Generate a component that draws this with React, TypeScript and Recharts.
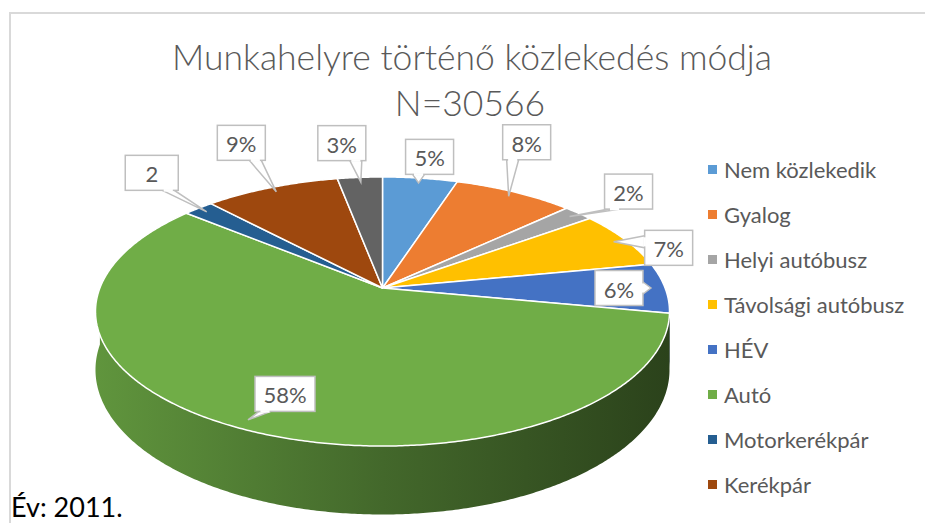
import React from 'react';
import { PieChart, Pie, Cell, Legend } from 'recharts';

// ---- data ----
const categories = [
  'Nem közlekedik',
  'Gyalog',
  'Helyi autóbusz',
  'Távolsági autóbusz',
  'HÉV',
  'Autó',
  'Motorkerékpár',
  'Kerékpár',
  'Egyéb',
];
const shares = [5, 8, 2, 7, 6, 58, 2, 9, 3];
const labelTexts = ['5%', '8%', '2%', '7%', '6%', '58%', '2', '9%', '3%'];
const titleLines = ['Munkahelyre történő közlekedés módja', 'N=30566'];
const footnote = 'Év: 2011.';
const VISIBLE_LEGEND_ITEMS = 8; // the last legend row falls outside the chart frame

// ---- styles / layout ----
const COLORS = ['#5B9BD5', '#ED7D31', '#A5A5A5', '#FFC000', '#4472C4', '#70AD47', '#255E91', '#9E480E', '#636363'];
const LABEL_OFFSETS: [number, number][] = [
  [11, -26],
  [18, -54],
  [59, -25],
  [55, 6],
  [-32, 0],
  [37, -26],
  [-55, -39],
  [-35, -49],
  [-19, -39],
];
const TILT = 0.4615;
const PERSP = 0.1747;
const DEPTH = 0.2;
const FONT = 'Lato, "Open Sans", sans-serif';
const TEXT_COLOR = '#595959';

const data = categories.map((name, i) => ({ name, value: shares[i], label: labelTexts[i] }));

function proj(cx: number, cy: number, R: number, angleDeg: number, r: number, z: number): [number, number] {
  const a = (angleDeg * Math.PI) / 180;
  const u = r * Math.cos(a);
  const v = r * Math.sin(a);
  const w = 1 + PERSP * v;
  return [cx + (R * u) / w, cy - (R * TILT * v) / w + (z * R * DEPTH) / w];
}

function shade(hex: string, f: number) {
  const n = parseInt(hex.slice(1), 16);
  const r = Math.round(((n >> 16) & 255) * f);
  const g = Math.round(((n >> 8) & 255) * f);
  const b = Math.round((n & 255) * f);
  return `rgb(${r},${g},${b})`;
}

function arcPoints(cx: number, cy: number, R: number, a1: number, a2: number, z: number) {
  const steps = Math.max(2, Math.ceil(Math.abs(a2 - a1) * 2));
  const pts: [number, number][] = [];
  for (let s = 0; s <= steps; s++) {
    const a = a1 + ((a2 - a1) * s) / steps;
    pts.push(proj(cx, cy, R, a, 1, z));
  }
  return pts;
}

function Slice3D(props: any) {
  const { cx, cy, outerRadius, startAngle, endAngle } = props;
  const name = props.name ?? props.payload?.name;
  const idx = Math.max(0, categories.indexOf(name));
  const color = COLORS[idx];
  const R = outerRadius;
  const hi = Math.max(startAngle, endAngle);
  const lo = Math.min(startAngle, endAngle);
  const top = arcPoints(cx, cy, R, startAngle, endAngle, 0);
  const topPath =
    `M${cx},${cy} ` + top.map((p) => `L${p[0].toFixed(2)},${p[1].toFixed(2)}`).join(' ') + ' Z';
  // side wall for the front part (angles between -180 and 0)
  const s1 = Math.max(lo, -180);
  const s2 = Math.min(hi, 0);
  let sidePath = '';
  if (s2 > s1) {
    const upper = arcPoints(cx, cy, R, s1, s2, 0);
    const lower = arcPoints(cx, cy, R, s2, s1, 1);
    sidePath =
      `M${upper[0][0].toFixed(2)},${upper[0][1].toFixed(2)} ` +
      upper.slice(1).map((p) => `L${p[0].toFixed(2)},${p[1].toFixed(2)}`).join(' ') +
      ' ' +
      lower.map((p) => `L${p[0].toFixed(2)},${p[1].toFixed(2)}`).join(' ') +
      ' Z';
  }
  const gid = `side-grad-${idx}`;
  return (
    <g>
      <defs>
        <linearGradient id={gid} x1="0" y1="0" x2="1" y2="0">
          <stop offset="0%" stopColor={shade(color, 0.86)} />
          <stop offset="50%" stopColor={shade(color, 0.6)} />
          <stop offset="100%" stopColor={shade(color, 0.38)} />
        </linearGradient>
      </defs>
      {sidePath && <path d={sidePath} fill={`url(#${gid})`} stroke="none" />}
      <path d={topPath} fill={color} stroke="#ffffff" strokeWidth={1.5} strokeLinejoin="round" />
    </g>
  );
}

function renderLabel(props: any) {
  const { cx, cy, outerRadius, midAngle } = props;
  const name = props.name ?? props.payload?.name;
  const idx = Math.max(0, categories.indexOf(name));
  const text = labelTexts[idx];
  const [tx, ty] = proj(cx, cy, outerRadius, midAngle, 0.95, 0);
  const [dx, dy] = LABEL_OFFSETS[idx];
  const bx = tx + dx;
  const by = ty + dy;
  const w = text.length >= 3 ? 60 : text.length === 1 ? 53 : 48;
  const h = 35;
  const left = bx - w / 2;
  const right = bx + w / 2;
  const topY = by - h / 2;
  const bottom = by + h / 2;
  let b1: [number, number];
  let b2: [number, number];
  const hw = 6;
  const clamp = (v: number, a: number, b: number) => Math.min(b, Math.max(a, v));
  if (ty > bottom) {
    const x = clamp(tx, left + hw + 4, right - hw - 4);
    b1 = [x - hw, bottom];
    b2 = [x + hw, bottom];
  } else if (ty < topY) {
    const x = clamp(tx, left + hw + 4, right - hw - 4);
    b1 = [x - hw, topY];
    b2 = [x + hw, topY];
  } else if (tx > right) {
    const y = clamp(ty, topY + hw + 4, bottom - hw - 4);
    b1 = [right, y - hw];
    b2 = [right, y + hw];
  } else {
    const y = clamp(ty, topY + hw + 4, bottom - hw - 4);
    b1 = [left, y - hw];
    b2 = [left, y + hw];
  }
  const tail = `${b1[0]},${b1[1]} ${tx},${ty} ${b2[0]},${b2[1]}`;
  const stroke = '#bfbfbf';
  return (
    <g key={`lbl-${idx}`}>
      <polygon points={tail} fill="#ffffff" stroke={stroke} strokeWidth={1.5} strokeLinejoin="miter" />
      <rect x={left} y={topY} width={w} height={h} fill="#ffffff" stroke={stroke} strokeWidth={1.5} />
      <line
        x1={b1[0] + (b2[0] - b1[0]) * 0.12}
        y1={b1[1] + (b2[1] - b1[1]) * 0.12}
        x2={b1[0] + (b2[0] - b1[0]) * 0.88}
        y2={b1[1] + (b2[1] - b1[1]) * 0.88}
        stroke="#ffffff"
        strokeWidth={2.5}
      />
      <text
        x={bx}
        y={by + 1}
        textAnchor="middle"
        dominantBaseline="central"
        fill={TEXT_COLOR}
        fontSize={22}
        fontFamily={FONT}
      >
        {text}
      </text>
    </g>
  );
}

function LegendContent(props: any) {
  const payload = [...(props.payload || [])]
    .sort((a: any, b: any) => categories.indexOf(a.value) - categories.indexOf(b.value))
    .slice(0, VISIBLE_LEGEND_ITEMS);
  return (
    <div style={{ fontFamily: FONT }}>
      {payload.map((entry: any, i: number) => (
        <div
          key={`leg-${i}`}
          style={{ height: 45, display: 'flex', alignItems: 'center', whiteSpace: 'nowrap' }}
        >
          <span
            style={{
              display: 'inline-block',
              width: 9,
              height: 9,
              background: COLORS[categories.indexOf(entry.value)] || entry.color,
              marginRight: 7,
            }}
          />
          <span style={{ fontSize: 22, color: TEXT_COLOR }}>{entry.value}</span>
        </div>
      ))}
    </div>
  );
}

export default function App() {
  return (
    <div
      style={{
        position: 'absolute',
        left: 0,
        top: 0,
        width: 925,
        height: 523,
        overflow: 'hidden',
        background: '#ffffff',
      }}
    >
      <div
        style={{
          position: 'absolute',
          left: 9,
          top: 12,
          width: 940,
          height: 540,
          border: '2px solid #d9d9d9',
          boxSizing: 'border-box',
        }}
      />
      <div
        style={{
          position: 'absolute',
          left: 0,
          width: 944,
          top: 34,
          height: 46,
          lineHeight: '46px',
          textAlign: 'center',
          fontFamily: FONT,
          fontWeight: 300,
          fontSize: 35.5,
          color: TEXT_COLOR,
        }}
      >
        {titleLines[0]}
      </div>
      <div
        style={{
          position: 'absolute',
          left: 0,
          width: 940,
          top: 80,
          height: 46,
          lineHeight: '46px',
          textAlign: 'center',
          fontFamily: FONT,
          fontWeight: 300,
          fontSize: 35.5,
          color: TEXT_COLOR,
        }}
      >
        {titleLines[1]}
      </div>
      <div style={{ position: 'absolute', left: 0, top: 0 }}>
        <PieChart width={925} height={523} margin={{ top: 0, right: 0, bottom: 0, left: 0 }}>
          <Pie
            data={data}
            dataKey="value"
            nameKey="name"
            cx={382.5}
            cy={288}
            outerRadius={282.6}
            startAngle={90}
            endAngle={-270}
            shape={Slice3D}
            label={renderLabel}
            labelLine={false}
            isAnimationActive={false}
          >
            {data.map((d, i) => (
              <Cell key={`c-${i}`} fill={COLORS[i]} />
            ))}
          </Pie>
          <Legend
            layout="vertical"
            align="right"
            verticalAlign="top"
            content={<LegendContent />}
            wrapperStyle={{ position: 'absolute', left: 708, top: 147, width: 217 }}
          />
        </PieChart>
      </div>
      <div
        style={{
          position: 'absolute',
          left: 11,
          top: 491,
          fontFamily: FONT,
          fontSize: 27,
          color: '#000000',
          lineHeight: '32px',
          whiteSpace: 'nowrap',
        }}
      >
        {footnote}
      </div>
    </div>
  );
}
